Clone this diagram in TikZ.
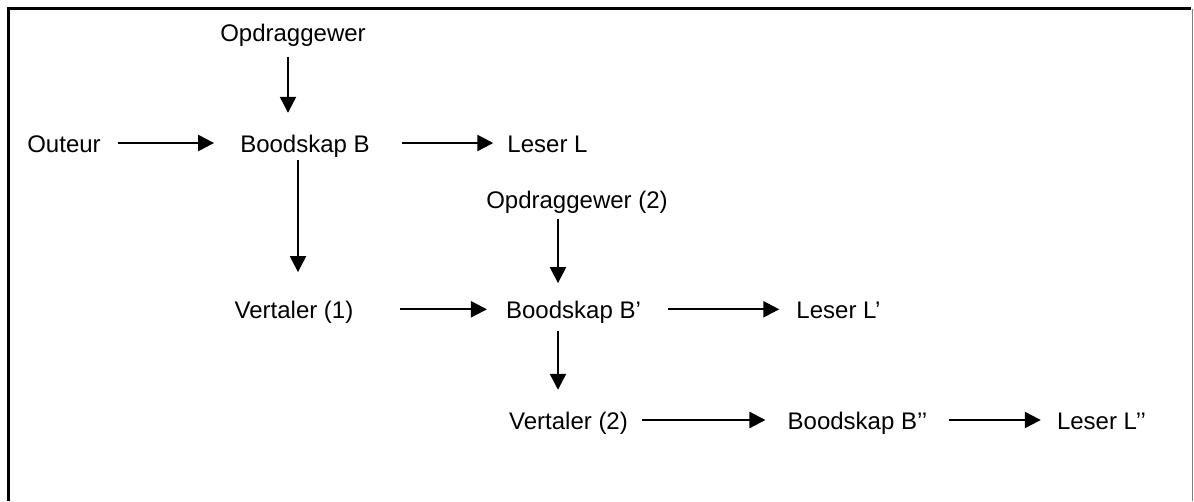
\documentclass[tikz,border=0pt]{standalone}
\usepackage{fontspec}
\setmainfont{Liberation Sans}
\usetikzlibrary{arrows.meta}
\tikzset{
  lbl/.style={inner sep=0pt, text height=18pt, text depth=0pt,
    font=\fontsize{24}{28}\selectfont},
  flow/.style={line width=2.3pt, -{Triangle[length=16pt,width=16pt]}}
}
\begin{document}
\begin{tikzpicture}[x=1pt,y=-1pt]
  \useasboundingbox (0,0) rectangle (1194,501);
  % frame, open at the bottom
  \draw[line width=3pt] (8,501) -- (8,8.5) -- (1191,8.5);
  \draw[gray, line width=1.5pt] (1192.5,8.5) -- (1192.5,501);

  % first level
  \node[lbl] (opd)  at (293,32.7)  {Opdraggewer};
  \node[lbl] (out)  at (64,143)    {Outeur};
  \node[lbl] (bB)   at (305,143)   {Boodskap B};
  \node[lbl] (lL)   at (547.5,143) {Leser L};

  % second level
  \node[lbl] (opd2) at (577,199.3)   {Opdraggewer (2)};
  \node[lbl] (ver1) at (294,309.3)   {Vertaler (1)};
  \node[lbl] (bB1)  at (573.5,309.3) {Boodskap B’};
  \node[lbl] (lL1)  at (838.5,309.3) {Leser L’};

  % third level
  \node[lbl] (ver2) at (568.5,420)   {Vertaler (2)};
  \node[lbl] (bB2)  at (857.5,420)   {Boodskap B’{}’};
  \node[lbl] (lL2)  at (1101.5,420)  {Leser L’{}’};

  % connectors
  \draw[flow, shorten <=15pt, shorten >=21pt] (opd.south -| 288,0) -- (bB.north -| 288,0);
  \draw[flow, shorten <=17pt, shorten >=26pt] (out.east) -- (bB.west);
  \draw[flow, shorten <=32pt, shorten >=14pt] (bB.east) -- (lL.west);
  \draw[flow, shorten <=8pt, shorten >=28pt] (bB.south -| 298,0) -- (ver1.north -| 298,0);
  \draw[flow, shorten <=10pt, shorten >=17pt] (opd2.south -| 558,0) -- (bB1.north -| 558,0);
  \draw[flow, shorten <=46pt, shorten >=19pt] (ver1.east) -- (bB1.west);
  \draw[flow, shorten <=27pt, shorten >=17pt] (bB1.east) -- (lL1.west);
  \draw[flow, shorten <=12pt, shorten >=21pt] (bB1.south -| 558,0) -- (ver2.north -| 558,0);
  \draw[flow, shorten <=14pt, shorten >=22pt] (ver2.east) -- (bB2.west);
  \draw[flow, shorten <=21pt, shorten >=16pt] (bB2.east) -- (lL2.west);
\end{tikzpicture}
\end{document}
